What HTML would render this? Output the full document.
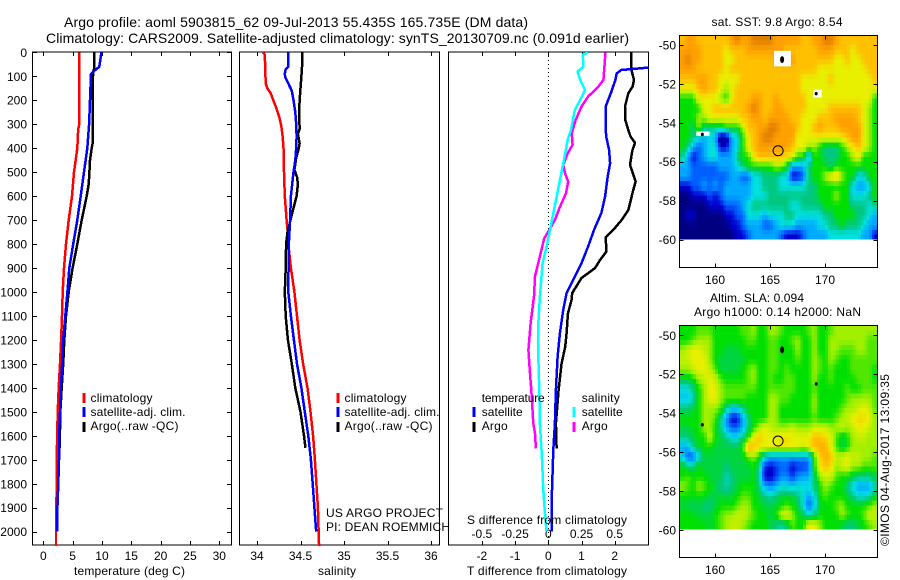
<!DOCTYPE html>
<html>
<head>
<meta charset="utf-8">
<title>Argo profile</title>
<style>
html,body{margin:0;padding:0;background:#fff;}
svg{display:block;}
text{font-family:"Liberation Sans",sans-serif;font-size:12px;fill:#000;}
.t14{font-size:14px;}
.frame{fill:none;stroke:#000;stroke-width:1;shape-rendering:crispEdges;}
.tick{stroke:#000;stroke-width:1;shape-rendering:crispEdges;}
.ln{fill:none;stroke-width:2.5;shape-rendering:crispEdges;stroke-linejoin:round;}
.leg{stroke-width:3;shape-rendering:crispEdges;}
</style>
</head>
<body>
<svg id="chart" xmlns="http://www.w3.org/2000/svg" width="900" height="580" viewBox="0 0 900 580">
<defs>
<clipPath id="clip3"><rect x="448.5" y="52" width="200" height="493"/></clipPath>
</defs>
<rect x="0" y="0" width="900" height="580" fill="#fff"/>
<text x="64" y="27" class="t14" textLength="464" lengthAdjust="spacing">Argo profile: aoml 5903815_62 09-Jul-2013 55.435S 165.735E (DM data)</text>
<text x="46" y="43" class="t14" textLength="583" lengthAdjust="spacing">Climatology: CARS2009. Satellite-adjusted climatology: synTS_20130709.nc (0.091d earlier)</text>

<g id="panels"></g>
<g id="maps"></g>

<text x="74" y="575" textLength="111" lengthAdjust="spacing">temperature (deg C)</text>
<text x="318" y="575" textLength="38" lengthAdjust="spacing">salinity</text>
<text x="467" y="575" textLength="160" lengthAdjust="spacing">T difference from climatology</text>
<text x="467" y="524" textLength="160" lengthAdjust="spacing">S difference from climatology</text>

<line class="leg" x1="84" y1="393" x2="84" y2="403" stroke="#ff0000"/>
<line class="leg" x1="84" y1="407" x2="84" y2="417" stroke="#0000ff"/>
<line class="leg" x1="84" y1="422" x2="84" y2="432" stroke="#000"/>
<text x="90.5" y="402" textLength="62" lengthAdjust="spacing">climatology</text>
<text x="90.5" y="416" textLength="95" lengthAdjust="spacing">satellite-adj. clim.</text>
<text x="90.5" y="430" textLength="88" lengthAdjust="spacing">Argo(..raw -QC)</text>

<line class="leg" x1="338" y1="393" x2="338" y2="403" stroke="#ff0000"/>
<line class="leg" x1="338" y1="407" x2="338" y2="417" stroke="#0000ff"/>
<line class="leg" x1="338" y1="422" x2="338" y2="432" stroke="#000"/>
<text x="344.5" y="402" textLength="62" lengthAdjust="spacing">climatology</text>
<text x="344.5" y="416" textLength="95" lengthAdjust="spacing">satellite-adj. clim.</text>
<text x="344.5" y="430" textLength="88" lengthAdjust="spacing">Argo(..raw -QC)</text>
<text x="326" y="517" textLength="117" lengthAdjust="spacing">US ARGO PROJECT</text>
<text x="326" y="531" textLength="124" lengthAdjust="spacing">PI: DEAN ROEMMICH</text>

<text x="481.7" y="402" textLength="63" lengthAdjust="spacing">temperature</text>
<line class="leg" x1="474" y1="407" x2="474" y2="417" stroke="#0000ff"/>
<line class="leg" x1="474" y1="422" x2="474" y2="432" stroke="#000"/>
<text x="481.7" y="416" textLength="41" lengthAdjust="spacing">satellite</text>
<text x="481.7" y="430" textLength="26" lengthAdjust="spacing">Argo</text>
<text x="581.7" y="402" textLength="38" lengthAdjust="spacing">salinity</text>
<line class="leg" x1="574" y1="407" x2="574" y2="417" stroke="#00ffff"/>
<line class="leg" x1="574" y1="422" x2="574" y2="432" stroke="#ff00ff"/>
<text x="581.7" y="416" textLength="41" lengthAdjust="spacing">satellite</text>
<text x="581.7" y="430" textLength="26" lengthAdjust="spacing">Argo</text>

<text x="711.5" y="26" textLength="131" lengthAdjust="spacing">sat. SST: 9.8 Argo: 8.54</text>
<text x="710" y="302" textLength="94" lengthAdjust="spacing">Altim. SLA: 0.094</text>
<text x="694" y="316" textLength="167" lengthAdjust="spacing">Argo h1000: 0.14 h2000: NaN</text>
<text transform="translate(889,546) rotate(-90)" textLength="172" lengthAdjust="spacing">©IMOS 04-Aug-2017 13:09:35</text>
</svg>
<script>
// ---- axis ticks ----
const depthTicks=[0,100,200,300,400,500,600,700,800,900,1000,1100,1200,1300,1400,1500,1600,1700,1800,1900,2000];
const tempTicks=[0,5,10,15,20,25,30];
const salTicks=[34,34.5,35,35.5,36];
const diffTTicks=[-2,-1,0,1,2];
const diffSTicks=[-0.5,-0.25,0,0.25,0.5];
const latTicks=[50,52,54,56,58,60];
const lonTicks=[160,165,170];

// ---- temperature panel ----
const tempClimDepth=[0,300,320,400,500,600,700,800,900,1000,1100,1200,1300,1400,1500,1700,1800,2000,2060];
const tempClimValues=[6.14,6.14,5.95,5.8,5.23,4.9,4.33,3.87,3.53,3.3,3.18,3.03,2.85,2.62,2.45,2.28,2.28,2.16,2.16];
const tempSatDepth=[0,60,75,90,200,300,400,500,600,700,800,900,1000,1100,1200,1300,1400,1500,1600,1700,1800,1900,2000];
const tempSatValues=[9.9,9.55,8.8,8.13,7.96,7.8,7.5,6.94,6.37,5.8,5.1,4.43,4.1,3.75,3.4,3.2,3.0,2.85,2.68,2.68,2.56,2.4,2.4];
const tempArgoDepth=[0,70,80,100,150,200,380,400,450,500,550,600,700,800,900,1000,1100,1200,1300,1400,1500,1650];
const tempArgoValues=[8.65,8.65,8.5,8.47,8.45,8.4,8.4,8.25,7.96,7.85,7.73,7.4,6.54,5.8,5.0,4.33,3.87,3.58,3.4,3.13,2.9,2.8];

// ---- salinity panel ----
const salClimDepth=[0,10,130,150,170,200,230,270,310,350,400,500,600,650,700,740,800,900,1000,1100,1200,1300,1400,1500,1600,1700,1800,1900,2060];
const salClimValues=[34.07,34.09,34.1,34.12,34.156,34.187,34.22,34.256,34.28,34.294,34.305,34.31,34.32,34.33,34.34,34.35,34.36,34.39,34.43,34.46,34.49,34.53,34.58,34.615,34.645,34.665,34.683,34.7,34.714];
const salSatDepth=[0,60,70,90,105,130,160,200,250,300,350,400,450,500,550,600,700,800,1000,1100,1200,1300,1400,1500,1600,1700,1800,1900,2000];
const salSatValues=[34.36,34.36,34.33,34.32,34.325,34.36,34.4,34.42,34.44,34.45,34.455,34.45,34.44,34.42,34.405,34.39,34.38,34.366,34.36,34.39,34.424,34.46,34.51,34.55,34.59,34.62,34.64,34.66,34.68];
const salArgoDepth=[0,50,100,150,200,250,320,340,380,400,440,490,520,550,600,650,700,750,800,900,1000,1100,1200,1300,1400,1500,1600,1650];
const salArgoValues=[34.52,34.52,34.51,34.5,34.49,34.485,34.49,34.47,34.49,34.48,34.45,34.43,34.46,34.47,34.455,34.42,34.385,34.35,34.335,34.33,34.32,34.33,34.355,34.4,34.44,34.5,34.54,34.557];

// ---- difference panel ----
const diffTSatDepth=[0,60,64,74,88,115,164,226,303,350,407,463,518,601,670,740,810,880,950,1004,1075,1172,1270,1409,1548,1659,1826,2000];
const diffTSatValues=[3.76,3.4,3.0,2.2,2.06,2.02,1.9,1.73,1.73,1.74,1.83,1.86,1.79,1.71,1.6,1.38,1.2,1.0,0.75,0.55,0.45,0.35,0.28,0.23,0.2,0.15,0.11,0.1];
const diffTArgoDepth=[0,67,115,143,171,226,282,324,352,377,410,470,498,540,574,658,699,740,771,831,866,900,942,1004,1034,1090,1172,1228,1298,1409,1548,1652];
const diffTArgoValues=[2.49,2.49,2.58,2.54,2.41,2.31,2.32,2.41,2.48,2.61,2.53,2.46,2.53,2.63,2.56,2.41,2.21,1.96,1.73,1.75,1.56,1.41,1.0,0.72,0.7,0.59,0.55,0.51,0.4,0.31,0.23,0.25];
const diffSSatDepth=[0,10,60,80,115,157,199,240,324,365,463,601,726,810,880,1018,1131,1270,1409,1548,1687,1826,1937,2000];
const diffSSatValues=[0.3,0.26,0.265,0.22,0.24,0.276,0.24,0.2,0.17,0.146,0.113,0.063,0.018,-0.013,-0.043,-0.063,-0.075,-0.075,-0.068,-0.063,-0.048,-0.038,-0.023,-0.013];
const diffSArgoDepth=[0,46,115,143,185,226,282,338,386,421,470,505,540,588,644,699,740,775,851,935,1018,1131,1242,1340,1409,1548,1590,1652];
const diffSArgoValues=[0.43,0.425,0.415,0.377,0.3,0.25,0.206,0.176,0.183,0.146,0.113,0.126,0.15,0.133,0.088,0.05,0.008,-0.03,-0.063,-0.1,-0.108,-0.133,-0.15,-0.138,-0.128,-0.113,-0.1,-0.093];

// ---- maps: colour level per 0.5deg x 0.5deg cell, north to south, west to east ----
const sstLevels=[
[9,10,10,9,9,9,9,9,9,10,11,10,10,11,11,11,11,10,10,10,10,10,9,9,10,10,11,11,10,9,9,9,9,9,9,9],
[10,10,10,10,9,9,9,9,8,9,9,9,10,10,10,10,10,10,10,9,9,9,9,9,9,10,10,10,9,9,9,8,9,9,9,9],
[10,11,10,10,9,9,9,9,8,8,9,9,9,9,9,9,9,10,10,10,10,9,9,9,9,9,9,9,8,8,9,8,8,9,9,9],
[10,10,10,9,9,9,9,9,8,9,9,9,9,9,9,9,9,9,9,9,9,9,9,9,9,8,8,8,8,8,8,8,8,8,9,9],
[9,9,9,10,10,9,9,8,8,8,8,9,9,9,9,9,9,9,9,9,9,9,8,8,8,8,8,9,8,8,8,8,8,8,8,9],
[8,8,8,9,10,9,9,8,7,8,9,9,9,9,9,9,9,9,9,9,9,9,8,8,8,8,8,8,8,8,8,8,8,8,8,8],
[6,6,6,8,8,8,8,7,6,8,9,9,9,10,10,9,9,10,9,9,9,9,9,8,8,8,8,8,8,8,8,8,8,8,8,6],
[6,6,6,6,8,8,9,9,9,9,9,9,10,11,10,9,9,10,10,9,9,9,9,8,8,8,8,9,9,9,9,9,9,8,7,6],
[6,6,6,7,7,8,8,8,8,8,8,9,9,10,10,9,10,10,10,10,9,9,8,8,8,9,9,9,10,10,10,10,9,8,7,6],
[6,6,5,7,5,5,5,5,6,6,6,7,9,9,10,10,11,11,10,10,10,9,8,8,9,10,9,9,9,10,10,10,10,8,7,6],
[6,6,5,4,3,4,3,0,0,3,4,6,8,9,10,11,11,10,10,10,10,8,8,8,8,8,8,8,8,8,9,10,10,8,7,6],
[6,5,3,2,3,4,4,1,1,3,4,6,8,9,10,10,10,10,10,10,9,8,8,7,7,6,5,5,5,6,7,8,9,8,7,6],
[5,3,1,2,3,4,4,3,3,3,5,6,6,8,9,9,9,9,9,8,8,6,6,3,6,6,5,5,5,6,6,7,8,6,6,6],
[3,3,2,2,2,2,2,3,3,3,4,5,6,6,6,6,6,7,7,6,3,3,3,5,6,6,6,5,6,6,6,6,6,6,6,6],
[3,3,2,2,2,2,2,2,2,3,3,2,2,4,4,5,5,5,4,4,1,1,2,5,6,6,7,8,9,7,6,6,4,4,6,6],
[1,1,2,2,3,2,3,2,3,3,3,3,3,4,4,5,5,5,4,4,4,4,4,5,5,6,6,6,6,6,6,4,3,3,4,6],
[0,0,1,1,1,2,1,2,3,3,3,3,3,4,4,4,5,5,5,5,5,5,5,5,5,6,6,6,7,6,6,4,4,4,5,6],
[0,0,0,0,0,1,1,1,2,2,2,3,4,5,5,5,5,5,5,5,4,4,5,5,5,5,6,6,6,6,6,5,5,5,4,5],
[0,1,1,0,0,0,0,0,1,1,2,2,4,4,4,3,4,4,4,5,5,4,4,4,4,4,5,5,6,6,6,6,5,5,4,3],
[0,0,0,0,0,0,0,0,0,1,1,2,3,3,3,2,2,3,4,4,4,3,3,3,3,4,4,5,5,6,5,5,5,4,3,3],
[0,0,0,0,0,0,0,0,0,0,1,1,2,3,3,3,3,3,2,1,1,1,2,3,3,3,3,4,4,4,4,4,4,3,3,1]
];
const slaLevels=[
[6,6,6,6.5,6.5,6.5,6,6,6,6,6,6.5,6.5,7,6,6,7,7,6.5,6,6,6,6,6.5,7,6,6,6.5,7,7,7,7,7,7,7,7],
[6,6,6.5,7,7,7,6,6,6,6,6,6,6.5,6.5,6,6,6.5,6.5,6,6,6.5,7,6,6,7,6,6,7,7,7,7,7,7,7,6.5,6.5],
[7,7.5,8,8,7.5,7,6,6,5.5,5.5,5.5,6,6,6,6,6,6.5,6.5,6,6,6,7,6,6,7,6,6,7,7,6.5,6.5,6.5,7,7,6.5,6.5],
[7.5,7.5,8,8,8,7,6,5.5,5.5,5.5,5.5,5.5,6,6,6,6,6.5,6.5,6,6,6,6.5,6,6,7,6.5,6,7,6.5,6,6,6.5,6.5,6.5,6.5,6.5],
[7,7,7.5,8,8,7.5,6.5,5.5,5.5,5.5,5.5,6,6.5,7,6,6,6.5,6.5,6,6.5,6,6,6,6,7,6.5,6,6.5,6,6,6,6.5,6.5,6.5,6.5,6],
[5.5,5.5,6,7,7.5,8,7.5,6.5,6,6,6,6,6.5,7,6,6,6.5,6,6,6.5,6.5,6,6,6,7,6,6,6.5,6,6,6,6,6.5,6.5,6.5,6],
[4,4,5,6,7,8,8,7,6.5,6.5,6.5,6.5,6.5,6.5,6,6,6.5,6.5,6.5,6.5,6.5,6,6,6,6.5,6,6,6,6,6,6.5,6,6,6.5,6.5,6.5],
[3.5,3.5,4.5,6,7,8,8,7,6.5,6.5,6.5,6.5,6,6,6,6,7,7,6.5,6.5,6,6,6,6,7,6,6,6,6,6,6.5,7,7,7,7,6.5],
[5,5,5.5,6,7,7,7,6.5,5,4,4,5,6,6,6,6,7,7,6,6,6,6,6,6,7,6,6,6,6,6.5,7,7,7.5,8,7.5,6.5],
[6,6,6,6,7,7,6.5,5,3,1,1,3,5,6,6,6,7,7,6,6,6,6,6,6,6.5,6,6,6,6.5,7,7.5,8,8.5,8.5,8,7],
[5.5,5.5,6,6,7,7,6,5,3,2,2,3,5,6,7,8,7.5,7,7,7,7.5,7,7,7,7.5,7.5,7.5,7,7,7.5,7,7.5,8,8,7.5,7],
[5,5,5.5,6,6,7.5,6,5.5,5,4,4,5,6,8,9,8,8,8,8.5,8.5,8,8,8,8,9,9,8.5,8,6.5,5.5,6,7,7.5,7.5,7,7],
[3,3,5,5.5,6,6,5.5,5.5,5.5,5.5,5.5,6,9.5,9,8,8,8,8,8,8,8,8,7.5,8,9,9.5,9.5,8,6.5,5.5,6,7,7,7,7,7],
[4,2,2,4,5.5,5.5,5.5,5.5,5.5,5.5,5.5,5.5,6.5,7,6,4,3,3,3,3,3,3,3,3,6,8.5,9.5,9,7.5,7.5,8,7.5,7.5,7,7,6.5],
[6,5,5,6,5.5,5.5,5.5,5.5,5,5.5,5.5,5.5,5.5,6,5,1.5,1,1.5,2,2,1,1.5,1.5,2,6,8,9,8.5,7,7.5,8,7,7,6.5,6.5,6.5],
[6,6.5,6,6,6,5.5,5.5,5.5,4.5,5,5.5,5.5,5.5,6,4.5,1,0.7,1.5,2.5,2.5,1.5,2.5,3,3,5,7,7.5,7.5,6.5,6,6,5.5,5,5,5,5.5],
[7,6.5,6,7,6.5,6,5.5,5,4.5,5,5.5,6,6,6,5,3,2.5,3,4,4,3.5,4,4,4,5,6,7,6.5,6,6,5,4,3,3,3,4.5],
[6,6,6,6,6,5.5,5.5,5.5,5.5,5.5,6,6.5,6.5,6,5.5,5,4.5,5,5.5,5.5,5.5,5,4,3,4,6,6.5,6,6,6,5.5,5,4,4,4.5,5.5],
[5.5,5.5,5,5.5,5,5,5.5,6,6,6,6.5,7,7,6,6,5.5,5.5,5.5,6,6.5,6,5.5,4,2,3.5,5.5,6,6,6.5,7,6,6,6,6,6.5,7],
[6,6,6,5.5,5.5,5.5,6,6.5,7,7,7.5,7.5,7,6.5,6,6,5.5,6,7.5,8,7,6,5.5,4.5,5,6,6,6,6,7,6.5,6,6,6.5,7.5,7.5],
[6,6,6,6,6,5.5,6,6.5,7,7.5,7.5,7,6.5,6,6,6,5.5,5,4.5,5,6.5,6,6,8,8,7,6,6,6,5.5,5,5,5.5,6,6.5,7]
];
const colorStops=['#000080','#0000d0','#0060ff','#00a8ff','#00e0e0','#00c880','#00e000','#a0f000','#e8f000','#ffc000','#ffa000','#e08000'];
const profileLon=[165.735];
const profileLat=[55.435];
const islandLon=[166.1,169.2,158.85];
const islandLat=[50.75,52.5,54.6];
const maskLonMin=[165.36,168.94,158.3];
const maskLonMax=[166.9,169.7,159.5];
const maskLatMin=[50.3,52.3,54.45];
const maskLatMax=[51.1,52.7,54.67];

// ---- scales ----
const NS='http://www.w3.org/2000/svg';
const yD=d=>52.3+0.2397*d;
const xT=v=>43.3+5.867*v;
const xS=v=>257+87*(v-34);
const xDT=v=>548.3+33.2*v;
const xDS=v=>548.3+132.8*v;
const lonX=l=>715+11*(l-160);
const panelsG=document.getElementById('panels');
const mapsG=document.getElementById('maps');

function mk(tag,attrs,parent,txt){
  const e=document.createElementNS(NS,tag);
  for(const k in attrs){e.setAttribute(k,attrs[k]);}
  if(txt!==undefined){e.textContent=txt;}
  parent.appendChild(e);
  return e;
}
function series(parent,name,depths,values,xf,color,clip){
  const pts=depths.map((d,i)=>xf(values[i]).toFixed(1)+','+yD(d).toFixed(1)).join(' ');
  const a={class:'ln',points:pts,stroke:color};
  if(clip){a['clip-path']='url(#clip3)';}
  const p=mk('polyline',a,parent);
  
  
}
function panelFrame(parent,name,x,w){
  const r=mk('rect',{class:'frame',x:x,y:52,width:w,height:493},parent);
  
  
}
function xTicks(parent,name,ticks,xf,labelY,fmt){
  ticks.forEach(v=>{
    const x=Math.round(xf(v))+0.5;
    const a=mk('line',{class:'tick',x1:x,x2:x,y1:52,y2:56},parent);
    
    
    const b=mk('line',{class:'tick',x1:x,x2:x,y1:541,y2:545},parent);
    
    
    const t=mk('text',{x:xf(v),y:labelY,'text-anchor':'middle'},parent,fmt(v));
    
    
  });
}

// temperature panel
panelFrame(panelsG,'temperature-panel-frame',32.5,199);
depthTicks.forEach(d=>{
  const y=Math.round(yD(d))+0.5;
  const a=mk('line',{class:'tick',x1:32.5,x2:37,y1:y,y2:y},panelsG);
  
  
  const b=mk('line',{class:'tick',x1:227,x2:231.5,y1:y,y2:y},panelsG);
  
  
  const t=mk('text',{x:27,y:yD(d)+4.5,'text-anchor':'end'},panelsG,String(d));
  
  
});
xTicks(panelsG,'temperature',tempTicks,xT,560,v=>String(v));
series(panelsG,'temperature-argo-line',tempArgoDepth,tempArgoValues,xT,'#000');
series(panelsG,'temperature-climatology-line',tempClimDepth,tempClimValues,xT,'#ff0000');
series(panelsG,'temperature-satellite-line',tempSatDepth,tempSatValues,xT,'#0000ff');

// salinity panel
panelFrame(panelsG,'salinity-panel-frame',239.5,200);
xTicks(panelsG,'salinity',salTicks,xS,560,v=>String(v));
series(panelsG,'salinity-climatology-line',salClimDepth,salClimValues,xS,'#ff0000');
series(panelsG,'salinity-argo-line',salArgoDepth,salArgoValues,xS,'#000');
series(panelsG,'salinity-satellite-line',salSatDepth,salSatValues,xS,'#0000ff');

// difference panel
panelFrame(panelsG,'difference-panel-frame',448.5,200);
xTicks(panelsG,'t-difference',diffTTicks,xDT,560,v=>String(v));
diffSTicks.forEach(v=>{
  const t=mk('text',{x:xDS(v),y:538,'text-anchor':'middle'},panelsG,String(v));
  
  
});
const zeroLine=mk('line',{x1:548.5,x2:548.5,y1:52,y2:545,stroke:'#000','stroke-width':1,'stroke-dasharray':'1 3','shape-rendering':'crispEdges'},panelsG);


series(panelsG,'t-difference-argo-line',diffTArgoDepth,diffTArgoValues,xDT,'#000',true);
series(panelsG,'t-difference-satellite-line',diffTSatDepth,diffTSatValues,xDT,'#0000ff',true);
series(panelsG,'s-difference-argo-line',diffSArgoDepth,diffSArgoValues,xDS,'#ff00ff',true);
series(panelsG,'s-difference-satellite-line',diffSSatDepth,diffSSatValues,xDS,'#00ffff',true);

// maps: each 0.5deg data cell is painted as a 2x2 block sampled bilinearly from its neighbours
function levelColor(v){
  const lo=Math.max(0,Math.min(colorStops.length-1,Math.floor(v)));
  const hi=Math.min(colorStops.length-1,lo+1);
  const f=v-lo;
  const ch=(s,i)=>parseInt(s.substr(1+2*i,2),16);
  const c=[0,1,2].map(i=>Math.round(ch(colorStops[lo],i)*(1-f)+ch(colorStops[hi],i)*f));
  return 'rgb('+c.join(',')+')';
}
function sampleLevel(levels,u,v){
  const rows=levels.length, cols=levels[0].length;
  const uc=Math.max(0,Math.min(cols-1,u)), vc=Math.max(0,Math.min(rows-1,v));
  const i0=Math.floor(uc), j0=Math.floor(vc);
  const i1=Math.min(cols-1,i0+1), j1=Math.min(rows-1,j0+1);
  const fu=uc-i0, fv=vc-j0;
  const top=levels[j0][i0]*(1-fu)+levels[j0][i1]*fu;
  const bot=levels[j1][i0]*(1-fu)+levels[j1][i1]*fu;
  return top*(1-fv)+bot*fv;
}
function drawMap(name,levels,top,lat50,showMask,labelY){
  const latY=l=>lat50+19.45*(l-50);
  const g=mk('g',{},mapsG);
  
  
  const nr=levels.length*2, nc=levels[0].length*2;
  for(let sj=0;sj<nr;sj++){
    for(let si=0;si<nc;si++){
      const lon=156.75+0.25*si;
      const lat=49.5+0.25*sj;
      const val=sampleLevel(levels,(si+0.5)/2-0.5,(sj+0.5)/2-0.5);
      const r=mk('rect',{x:lonX(lon).toFixed(2),y:latY(lat).toFixed(2),width:2.85,height:si>=0&&sj===nr-1?4.8:5,fill:levelColor(val),'shape-rendering':'crispEdges'},g);
      
      
    }
  }
  if(showMask){
    maskLonMin.forEach((m,i)=>{
      const r=mk('rect',{x:lonX(m),y:latY(maskLatMin[i]),width:lonX(maskLonMax[i])-lonX(m),height:latY(maskLatMax[i])-latY(maskLatMin[i]),fill:'#fff'},g);
      
      
    });
  }
  islandLon.forEach((l,i)=>{
    const c=mk('ellipse',{cx:lonX(l),cy:latY(islandLat[i]),rx:i===0?2:1.5,ry:i===0?3.5:1.8,fill:'#000'},g);
    
    
  });
  const mkr=mk('circle',{cx:lonX(profileLon[0]),cy:latY(profileLat[0]),r:5,fill:'none',stroke:'#000','stroke-width':1},g);
  
  
  const f=mk('rect',{class:'frame',x:679.5,y:top,width:198,height:232},g);
  
  
  latTicks.forEach(l=>{
    const y=Math.round(latY(l))+0.5;
    const a=mk('line',{class:'tick',x1:679.5,x2:683.5,y1:y,y2:y},g);
    
    
    const b=mk('line',{class:'tick',x1:873.5,x2:877.5,y1:y,y2:y},g);
    
    
    const t=mk('text',{x:676,y:latY(l)+4.5,'text-anchor':'end'},g,'-'+l);
    
    
  });
  lonTicks.forEach(l=>{
    const x=Math.round(lonX(l))+0.5;
    const a=mk('line',{class:'tick',x1:x,x2:x,y1:top,y2:top+4},g);
    
    
    const b=mk('line',{class:'tick',x1:x,x2:x,y1:top+228,y2:top+232},g);
    
    
    const t=mk('text',{x:lonX(l),y:labelY,'text-anchor':'middle'},g,String(l));
    
    
  });
}
drawMap('sst',sstLevels,35.5,45,true,284);
drawMap('sla',slaLevels,325.5,335.3,false,574);
</script>
</body>
</html>
